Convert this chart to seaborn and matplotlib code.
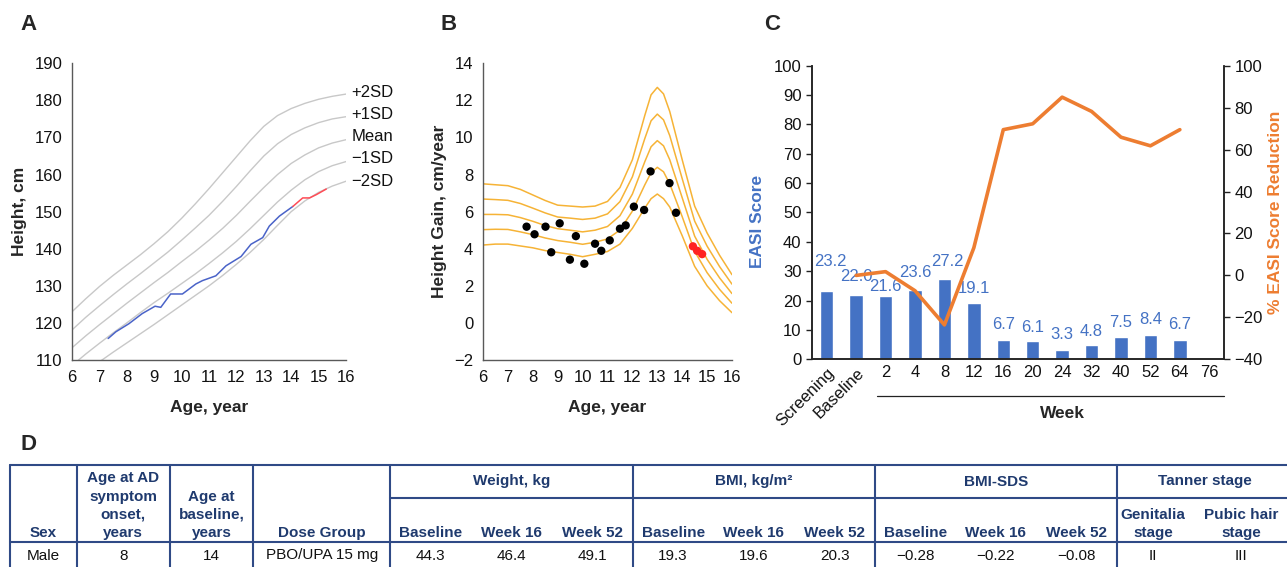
import numpy as np
import pandas as pd
import matplotlib
matplotlib.use("Agg")
import matplotlib.pyplot as plt
import seaborn as sns

#========================================================================================================#
# data
#========================================================================================================#

# A - height reference curves (boys) and patient height
ref_ages = [6, 6.5, 7, 7.5, 8, 8.5, 9, 9.5, 10, 10.5, 11, 11.5, 12, 12.5, 13, 13.5, 14, 14.5, 15, 15.5, 16]
ref_p2sd = [123.0, 126.5, 129.8, 132.8, 135.6, 138.4, 141.4, 144.6, 148.2, 152.1, 156.2,
            160.5, 164.8, 169.1, 173.0, 175.9, 177.8, 179.2, 180.3, 181.1, 181.7]
ref_p1sd = [118.1, 121.5, 124.6, 127.6, 130.5, 133.3, 136.2, 139.1, 142.3, 145.6, 149.0,
            152.8, 156.8, 161.0, 165.0, 168.3, 170.8, 172.6, 174.0, 175.0, 175.6]
ref_mean = [113.3, 116.5, 119.5, 122.4, 125.3, 128.1, 130.9, 133.6, 136.5, 139.3, 142.3,
            145.5, 149.0, 152.8, 156.5, 160.0, 163.0, 165.3, 167.2, 168.5, 169.4]
ref_m1sd = [108.5, 111.6, 114.5, 117.3, 120.0, 122.8, 125.5, 128.0, 130.6, 133.2, 136.0,
            138.9, 142.0, 145.4, 149.0, 152.6, 155.8, 158.6, 160.8, 162.4, 163.5]
ref_m2sd = [103.7, 106.7, 109.5, 112.1, 114.6, 117.1, 119.6, 122.2, 124.8, 127.4, 130.0,
            132.8, 135.8, 139.0, 142.5, 146.3, 150.0, 152.9, 155.2, 156.9, 158.2]
ref_names = ['+2SD', '+1SD', 'Mean', '\u22121SD', '\u22122SD']
ref_label_y = [182.1, 176.1, 170.3, 164.2, 158.1]

pt_ages = [7.32, 7.6, 8.08, 8.56, 9.03, 9.24, 9.6, 10.03, 10.52, 10.76, 11.25, 11.62,
           12.17, 12.53, 12.96, 13.2, 13.57, 14.06]
pt_height = [115.8, 117.6, 119.8, 122.5, 124.5, 124.2, 127.8, 127.8, 130.5, 131.4, 132.7, 135.4,
             137.9, 141.2, 143.0, 146.1, 148.8, 151.4]
post_ages = [14.06, 14.42, 14.67, 14.92, 15.28]
post_height = [151.4, 153.7, 153.7, 154.6, 156.1]

# B - height velocity reference curves and patient gains
vel_ages = [6, 6.5, 7, 7.5, 8, 8.5, 9, 9.5, 10, 10.5, 11, 11.5, 12, 12.5, 12.75, 13, 13.25,
            13.5, 14, 14.5, 15, 15.5, 16]
vel_c1 = [7.5, 7.45, 7.4, 7.2, 6.9, 6.6, 6.35, 6.3, 6.25, 6.3, 6.55,
          7.3, 8.8, 11.2, 12.3, 12.7, 12.35, 11.4, 8.8, 6.3, 4.85, 3.65, 2.6]
vel_c2 = [6.68, 6.65, 6.61, 6.44, 6.19, 5.93, 5.71, 5.65, 5.58, 5.65, 5.88,
          6.54, 7.88, 9.95, 10.9, 11.26, 10.95, 10.1, 7.78, 5.49, 4.14, 3.04, 2.09]
vel_c3 = [5.85, 5.85, 5.83, 5.68, 5.48, 5.25, 5.08, 5.0, 4.91, 5.0, 5.2,
          5.78, 6.95, 8.7, 9.5, 9.83, 9.55, 8.8, 6.75, 4.68, 3.43, 2.43, 1.58]
vel_c4 = [5.03, 5.05, 5.04, 4.91, 4.76, 4.58, 4.44, 4.35, 4.24, 4.35, 4.53,
          5.01, 6.03, 7.45, 8.1, 8.39, 8.15, 7.5, 5.73, 3.86, 2.71, 1.81, 1.06]
vel_c5 = [4.2, 4.25, 4.25, 4.15, 4.05, 3.9, 3.8, 3.7, 3.57, 3.7, 3.85,
          4.25, 5.1, 6.2, 6.7, 6.95, 6.7, 6.25, 4.7, 3.05, 2.0, 1.2, 0.55]

gain_ages = [7.75, 8.07, 8.51, 8.74, 9.08, 9.49, 9.73, 10.07, 10.5, 10.75, 11.09, 11.5,
             11.73, 12.06, 12.47, 12.73, 13.49, 13.75]
gain_vals = [5.19, 4.78, 5.19, 3.81, 5.37, 3.41, 4.68, 3.19, 4.27, 3.89, 4.45, 5.08,
             5.26, 6.27, 6.09, 8.17, 7.54, 5.94]
gain_ages_post = [14.43, 14.6, 14.8]
gain_vals_post = [4.13, 3.89, 3.71]

# C - EASI score and % reduction
visits = ['Screening', 'Baseline', '2', '4', '8', '12', '16', '20', '24', '32', '40', '52', '64', '76']
easi = [23.2, 22.0, 21.6, 23.6, 27.2, 19.1, 6.7, 6.1, 3.3, 4.8, 7.5, 8.4, 6.7, np.nan]
pct_visits = ['Baseline', '2', '4', '8', '12', '16', '20', '24', '32', '40', '52', '64']
pct_reduction = [0.0, 1.8, -7.3, -23.6, 13.2, 69.5, 72.3, 85.0, 78.2, 65.9, 61.8, 69.5]

# D - patient characteristics table
tbl_first_cols = ['Sex', 'Age at AD\nsymptom\nonset,\nyears', 'Age at\nbaseline,\nyears', 'Dose Group']
tbl_groups = ['Weight, kg', 'BMI, kg/m\u00b2', 'BMI-SDS', 'Tanner stage']
tbl_sub = ['Baseline', 'Week 16', 'Week 52']
tbl_tanner = ['Genitalia\nstage', 'Pubic hair\nstage']
tbl_row = ['Male', '8', '14', 'PBO/UPA 15 mg',
           '44.3', '46.4', '49.1',
           '19.3', '19.6', '20.3',
           '\u22120.28', '\u22120.22', '\u22120.08',
           'II', 'III']

#========================================================================================================#
# styling
#========================================================================================================#

sns.set_theme(style="white")
plt.rcParams['font.family'] = ['Liberation Sans', 'DejaVu Sans']
plt.rcParams['axes.unicode_minus'] = True

W, H = 1287, 567
fig = plt.figure(figsize=(W / 100, H / 100), dpi=100)
fig.patch.set_facecolor('white')

def px_ax(l, r, top, bot):
    # axes box from pixel edges
    return fig.add_axes([l / W, 1 - bot / H, (r - l) / W, (bot - top) / H])

AX_GREY = '#595959'
TICK_FS = 12
LAB_FS = 12.5

def style_lb(ax):
    for s in ['top', 'right']:
        ax.spines[s].set_visible(False)
    for s in ['left', 'bottom']:
        ax.spines[s].set_color(AX_GREY)
        ax.spines[s].set_linewidth(1.0)
    ax.tick_params(axis='both', direction='out', length=4, width=1.0, color=AX_GREY,
                   labelsize=TICK_FS, labelcolor='#111111', pad=3)

#========================================================================================================#
# A
#========================================================================================================#

axA = px_ax(72, 346, 63.3, 360)
for curve, name, ly in zip([ref_p2sd, ref_p1sd, ref_mean, ref_m1sd, ref_m2sd], ref_names, ref_label_y):
    sns.lineplot(x=ref_ages, y=curve, ax=axA, color='#c8c8c8', linewidth=1.0, sort=False)
    axA.text(16.2, ly, name, fontsize=12, va='center', ha='left', color='#111111')
sns.lineplot(x=pt_ages, y=pt_height, ax=axA, color='#4a63c8', linewidth=1.1, sort=False)
sns.lineplot(x=post_ages, y=post_height, ax=axA, color='#ff4b55', linewidth=1.1, sort=False)
axA.set_xlim(6, 16)
axA.set_ylim(110, 190)
axA.set_xticks(range(6, 17))
axA.set_yticks(range(110, 191, 10))
style_lb(axA)
axA.set_xlabel('Age, year', fontsize=LAB_FS, fontweight='bold')
axA.set_ylabel('Height, cm', fontsize=LAB_FS, fontweight='bold')
axA.xaxis.set_label_coords(0.5, -0.135)
axA.yaxis.set_label_coords(-0.165, 0.5)

#========================================================================================================#
# B
#========================================================================================================#

axB = px_ax(483, 732, 63.3, 360)
for curve in [vel_c1, vel_c2, vel_c3, vel_c4, vel_c5]:
    sns.lineplot(x=vel_ages, y=curve, ax=axB, color='#f6b336', linewidth=1.1, sort=False)
sns.scatterplot(x=gain_ages, y=gain_vals, ax=axB, color='black', s=36, edgecolor='none', zorder=5)
sns.scatterplot(x=gain_ages_post, y=gain_vals_post, ax=axB, color='#ff2222', s=36, edgecolor='none', zorder=5)
axB.set_xlim(6, 16)
axB.set_ylim(-2, 14)
axB.set_xticks(range(6, 17))
axB.set_yticks(range(-2, 15, 2))
style_lb(axB)
axB.set_xlabel('Age, year', fontsize=LAB_FS, fontweight='bold')
axB.set_ylabel('Height Gain, cm/year', fontsize=LAB_FS, fontweight='bold')
axB.xaxis.set_label_coords(0.5, -0.135)
axB.yaxis.set_label_coords(-0.145, 0.5)

#========================================================================================================#
# C
#========================================================================================================#

BLUE = '#4472c4'
ORANGE = '#ed7d31'
label_dy = [10.0, 6.2, 3.2, 5.9, 6.1, 5.1, 5.0, 4.8, 5.2, 4.8, 5.0, 5.0, 5.0]
label_dx = [0.12, 0.0, 0.0, 0.0, 0.1, 0.0, 0.0, 0.0, 0.0, 0.0, 0.0, 0.0, 0.0]

axC = px_ax(812, 1224, 65.7, 359.3)
dfC = pd.DataFrame({'visit': visits, 'easi': easi})
sns.barplot(data=dfC, x='visit', y='easi', order=visits, color=BLUE, saturation=1,
            width=0.46, errorbar=None, ax=axC)
for i, v in enumerate(easi):
    if np.isnan(v):
        continue
    axC.text(i + label_dx[i], v + label_dy[i], f'{v:.1f}', color=BLUE, fontsize=12,
             ha='center', va='center')
axC.set_xlim(-0.5, 13.5)
axC.set_ylim(0, 100)
axC.set_yticks(range(0, 101, 10))
axC.set_xlabel('')
axC.set_ylabel('EASI Score', fontsize=LAB_FS, fontweight='bold', color=BLUE)
axC.yaxis.set_label_coords(-0.115, 0.47)
axC.spines['top'].set_visible(False)
for s in ['left', 'bottom', 'right']:
    axC.spines[s].set_color('#222222')
    axC.spines[s].set_linewidth(1.1)
axC.tick_params(axis='y', direction='out', length=4, width=1.0, color='#222222',
                labelsize=TICK_FS, labelcolor='#111111')
axC.tick_params(axis='x', length=0, labelsize=TICK_FS, labelcolor='#111111', pad=4)
for lab in axC.get_xticklabels():
    if lab.get_text() in ('Screening', 'Baseline'):
        lab.set_rotation(45)
        lab.set_ha('right')
        lab.set_rotation_mode('anchor')
        lab.set_va('top')

axC2 = axC.twinx()
sns.lineplot(x=[visits.index(v) for v in pct_visits], y=pct_reduction, ax=axC2,
             color=ORANGE, linewidth=2.6, sort=False)
axC2.set_ylim(-40, 100)
axC2.set_yticks(range(-40, 101, 20))
axC2.set_xlim(-0.5, 13.5)
axC2.spines['top'].set_visible(False)
axC2.spines['right'].set_color('#222222')
axC2.spines['right'].set_linewidth(1.1)
axC2.tick_params(axis='y', direction='out', length=4, width=1.0, color='#222222',
                 labelsize=TICK_FS, labelcolor='#111111')
axC2.set_ylabel('% EASI Score Reduction', fontsize=LAB_FS, fontweight='bold', color=ORANGE,
                rotation=90)
axC2.yaxis.set_label_coords(1.108, 0.5)

# week bracket under numeric visits
axC.plot([1.72, 13.5], [-0.124, -0.124], color='#222222', linewidth=0.9,
         transform=axC.get_xaxis_transform(), clip_on=False)
axC.text(8.0, -0.183, 'Week', transform=axC.get_xaxis_transform(), ha='center', va='center',
         fontsize=LAB_FS, fontweight='bold')

#========================================================================================================#
# D - table drawn in pixel space
#========================================================================================================#

axD = fig.add_axes([0, 0, 1, 1], zorder=-1)
axD.set_xlim(0, W)
axD.set_ylim(H, 0)
axD.axis('off')

LINE = '#2f4a86'
HEAD = '#1f3a6e'
T_TOP, T_MID, T_HEAD, T_BOT = 465, 497.7, 542.3, 575
col_edges = [10, 76.7, 170, 253.3, 390, 632.7, 875, 1116.7, 1293]

axD.plot([col_edges[0], col_edges[-1]], [T_TOP, T_TOP], color=LINE, lw=1.5)
axD.plot([col_edges[4], col_edges[-1]], [T_MID, T_MID], color=LINE, lw=1.5)
axD.plot([col_edges[0], col_edges[-1]], [T_HEAD, T_HEAD], color=LINE, lw=1.5)
for xe in col_edges:
    axD.plot([xe, xe], [T_TOP, T_BOT], color=LINE, lw=1.5)

hfont = dict(fontsize=11, fontweight='bold', color=HEAD, ha='center', linespacing=1.38)
cell_x = []
for i, t in enumerate(tbl_first_cols):
    cx = (col_edges[i] + col_edges[i + 1]) / 2
    cell_x.append(cx)
    axD.text(cx, 540, t, va='bottom', **hfont)

for g, name in enumerate(tbl_groups):
    l, r = col_edges[4 + g], col_edges[5 + g]
    axD.text((l + r) / 2, 481.5, name, va='center', **hfont)
    if g < 3:
        w = (r - l) / 3
        for k, sub in enumerate(tbl_sub):
            cx = l + w * (k + 0.5)
            cell_x.append(cx)
            axD.text(cx, 540, sub, va='bottom', **hfont)

tanner_x = [1153, 1241]
for cx, t in zip(tanner_x, tbl_tanner):
    cell_x.append(cx)
    axD.text(cx, 540, t, va='bottom', **hfont)

for cx, t in zip(cell_x, tbl_row):
    axD.text(cx, 555.5, t, va='center', ha='center', fontsize=11, color='#111111')

#========================================================================================================#
# panel letters
#========================================================================================================#

for letter, (x, y) in zip('ABCD', [(20, 24), (440, 24), (764, 24), (20, 445)]):
    fig.text(x / W, 1 - y / H, letter, fontsize=16, fontweight='bold', va='center', ha='left')

fig.savefig('out.png', dpi=100, facecolor='white')
